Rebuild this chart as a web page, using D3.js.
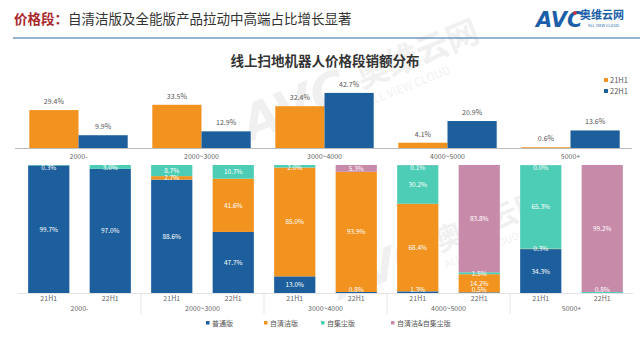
<!DOCTYPE html>
<html><head><meta charset="utf-8">
<script src="https://cdn.jsdelivr.net/npm/d3@7/dist/d3.min.js"></script>
<style>body{margin:0;background:#fff}svg{display:block;font-family:"Noto Sans CJK SC","Noto Sans",sans-serif}</style>
</head><body><svg id="c" width="640" height="339"></svg>
<script>
// ---- data ----
const categories = ["2000-", "2000~3000", "3000~4000", "4000~5000", "5000+"];
const periods = ["21H1", "22H1"];
const share21 = [29.4, 33.5, 32.4, 4.1, 0.6];
const share22 = [9.9, 12.9, 42.7, 20.9, 13.6];
const segTypes = ["普通版", "自清洁版", "自集尘版", "自清洁&自集尘版"];
// per bar (category x period): [普通版, 自清洁版, 自集尘版, 自清洁&自集尘版]; null = not shown
const mix = [
  [99.7, null, 0.3, null],
  [97.0, null, 3.0, null],
  [88.6, 2.7, 8.7, null],
  [47.7, 41.6, 10.7, null],
  [13.0, 85.0, 2.0, null],
  [0.8, 93.9, null, 5.3],
  [1.3, 68.4, 30.2, 0.1],
  [0.5, 14.2, 1.5, 83.8],
  [34.3, 0.3, 65.3, 0.0],
  [null, null, 0.8, 99.2]
];
const colors = ["#1c5f9c", "#f2931f", "#4dcdb6", "#c88aa9"];

const svg = d3.select("#c");

// ---- watermarks ----
function watermark(x, y, s) {
  const g = svg.append("g").attr("transform", `translate(${x},${y}) rotate(-22) scale(${s})`).attr("opacity", 0.1);
  g.append("text").attr("x", 0).attr("y", 0).attr("font-size", 52).attr("font-weight", "bold")
    .attr("font-style", "italic").attr("fill", "#777").attr("font-family", "DejaVu Sans").text("AVC");
  g.append("text").attr("x", 130).attr("y", -8).attr("font-size", 34).attr("font-weight", "bold").attr("fill", "#777").text("奥维云网");
  g.append("text").attr("x", 130).attr("y", 12).attr("font-size", 12).attr("fill", "#777").text("ALL VIEW CLOUD");
}
watermark(250, 142, 0.95);
watermark(340, 300, 0.85);

// ---- header ----
svg.append("text").attr("x", 14).attr("y", 24).attr("font-size", 13.5).attr("font-weight", "bold")
  .attr("fill", "#a8282b").text("价格段：");
svg.append("text").attr("x", 68).attr("y", 24).attr("font-size", 13.5).attr("fill", "#333")
  .text("自清洁版及全能版产品拉动中高端占比增长显著");
svg.append("line").attr("x1", 13).attr("x2", 640).attr("y1", 38).attr("y2", 38)
  .attr("stroke", "#2d6aa5").attr("stroke-width", 1.2);
// logo
svg.append("text").attr("x", 536).attr("y", 27).attr("font-size", 21).attr("font-weight", "bold")
  .attr("font-style", "italic").attr("fill", "#1c5fa8").attr("font-family", "DejaVu Sans").text("AVC");
svg.append("circle").attr("cx", 575).attr("cy", 13).attr("r", 1.8).attr("fill", "#d9302c");
svg.append("text").attr("x", 580).attr("y", 19).attr("font-size", 11).attr("font-weight", "bold")
  .attr("fill", "#1c5fa8").text("奥维云网");
svg.append("text").attr("x", 588).attr("y", 27).attr("font-size", 4).attr("fill", "#1c5fa8").text("ALL VIEW CLOUD");

// ---- top chart ----
svg.append("text").attr("x", 325).attr("y", 66).attr("text-anchor", "middle").attr("font-size", 13.5)
  .attr("font-weight", "bold").attr("fill", "#333").text("线上扫地机器人价格段销额分布");

const x0 = d3.scaleBand().domain(categories).range([17, 632]).paddingInner(0.2).paddingOuter(0.1);
const x1 = d3.scaleBand().domain(periods).range([0, x0.bandwidth()]);
const yT = d3.scaleLinear().domain([0, 50]).range([148, 83.5]);
const topData = [];
categories.forEach((c, i) => {
  topData.push({ c, p: "21H1", v: share21[i], col: colors[1] });
  topData.push({ c, p: "22H1", v: share22[i], col: colors[0] });
});
svg.append("g").selectAll("rect").data(topData).join("rect")
  .attr("x", d => x0(d.c) + x1(d.p)).attr("width", x1.bandwidth())
  .attr("y", d => yT(d.v)).attr("height", d => yT(0) - yT(d.v)).attr("fill", d => d.col);
svg.append("g").selectAll("text").data(topData).join("text")
  .attr("x", d => x0(d.c) + x1(d.p) + x1.bandwidth() / 2).attr("y", d => yT(d.v) - 6)
  .attr("text-anchor", "middle").attr("font-size", 7).attr("fill", "#555").text(d => d.v.toFixed(1) + "%");
svg.append("line").attr("x1", 15).attr("x2", 632).attr("y1", 148.5).attr("y2", 148.5).attr("stroke", "#bbb");
const axT = svg.append("g").attr("transform", "translate(0,148.5)")
  .call(d3.axisBottom(x0).tickSize(0).tickPadding(6));
axT.select(".domain").remove();
axT.selectAll("text").attr("font-size", 7).attr("fill", "#666").attr("font-family", "Noto Sans CJK SC");
// top legend
[["21H1", colors[1]], ["22H1", colors[0]]].forEach((d, i) => {
  svg.append("rect").attr("x", 604).attr("y", 78 + i * 11).attr("width", 4).attr("height", 4).attr("fill", d[1]);
  svg.append("text").attr("x", 610).attr("y", 83 + i * 11).attr("font-size", 7.5).attr("fill", "#555").text(d[0]);
});

// ---- bottom stacked chart ----
const bars = [];
categories.forEach(c => periods.forEach(p => bars.push(c + "|" + p)));
const xb = d3.scaleBand().domain(bars).range([18, 633]).paddingInner(0.33).paddingOuter(0.165);
const yB = d3.scaleLinear().domain([0, 100]).range([293, 165]);
const segs = [];
bars.forEach((b, i) => {
  let acc = 0;
  mix[i].forEach((v, k) => {
    if (v === null) return;
    segs.push({ b, k, v, y0: acc, y1: acc + v });
    acc += v;
  });
});
svg.append("g").selectAll("rect").data(segs).join("rect")
  .attr("x", d => xb(d.b)).attr("width", xb.bandwidth())
  .attr("y", d => yB(d.y1)).attr("height", d => yB(d.y0) - yB(d.y1)).attr("fill", d => colors[d.k]);
svg.append("g").selectAll("text").data(segs).join("text")
  .attr("x", d => xb(d.b) + xb.bandwidth() / 2)
  .attr("y", d => {
    const m = yB((d.y0 + d.y1) / 2) + 2.5;
    return Math.min(Math.max(m, 170), 292);
  })
  .attr("text-anchor", "middle").attr("font-size", 6.5).attr("fill", "#fff").text(d => d.v.toFixed(1) + "%");
svg.append("line").attr("x1", 18).attr("x2", 633).attr("y1", 293.5).attr("y2", 293.5).attr("stroke", "#e3e3e3");
// period labels
svg.append("g").selectAll("text").data(bars).join("text")
  .attr("x", d => xb(d) + xb.bandwidth() / 2).attr("y", 301).attr("text-anchor", "middle")
  .attr("font-size", 7).attr("fill", "#666").text(d => d.split("|")[1]);
// group labels & separators
svg.append("g").selectAll("text").data(categories).join("text")
  .attr("x", d => x0(d) + x0.bandwidth() / 2 + 1).attr("y", 311).attr("text-anchor", "middle")
  .attr("font-size", 7).attr("fill", "#666").text(d => d);
svg.append("g").selectAll("line").data(categories.slice(1)).join("line")
  .attr("x1", d => xb(d + "|21H1") - (xb.step() - xb.bandwidth()) / 2)
  .attr("x2", d => xb(d + "|21H1") - (xb.step() - xb.bandwidth()) / 2)
  .attr("y1", 293).attr("y2", 314).attr("stroke", "#e6e6e6");
// bottom legend
const legX = [206, 264, 321, 391];
segTypes.forEach((t, i) => {
  svg.append("rect").attr("x", legX[i]).attr("y", 321).attr("width", 3.5).attr("height", 3.5).attr("fill", colors[i]);
  svg.append("text").attr("x", legX[i] + 6).attr("y", 325.5).attr("font-size", 7).attr("fill", "#555").text(t);
});
</script></body></html>
